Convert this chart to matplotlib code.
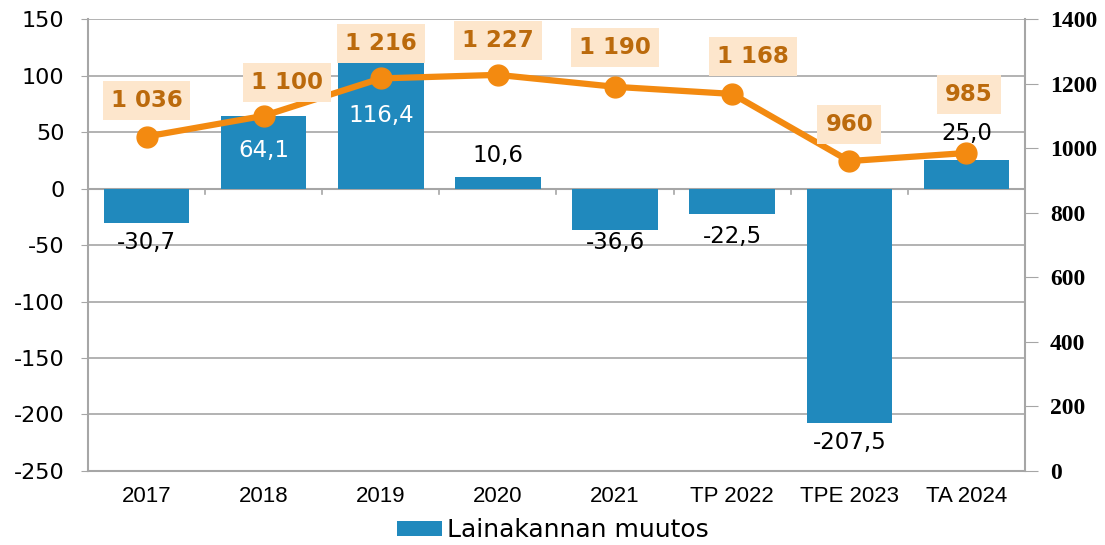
import matplotlib.pyplot as plt
import numpy as np

plt.rcParams['axes.unicode_minus'] = False

# data
categories = ['2017', '2018', '2019', '2020', '2021', 'TP 2022', 'TPE 2023', 'TA 2024']
muutos = [-30.7, 64.1, 116.4, 10.6, -36.6, -22.5, -207.5, 25.0]
lainakanta = [1036, 1100, 1216, 1227, 1190, 1168, 960, 985]

bar_col = '#2089BD'
line_col = '#F38A10'
lab_col = '#BB6A0C'
box_col = '#FDE6CC'
grid_col = '#A6A6A6'

def fi(v, dec=1):
    # finnish number format
    s = f'{v:.{dec}f}'.replace('.', ',')
    return s

def thousands(v):
    return f'{v:,}'.replace(',', ' ')

fig = plt.figure(figsize=(11.05, 5.45), dpi=100)
ax = fig.add_axes([0.0796, 0.1358, 0.848, 0.8293])
x = np.arange(len(categories))

ax.bar(x, muutos, width=0.73, color=bar_col, zorder=2, label='Lainakannan muutos')
ax.set_xlim(-0.5, len(categories) - 0.5)
ax.set_ylim(-250, 150)
ax.set_yticks(range(-250, 151, 50))
ax.yaxis.grid(True, color=grid_col, linewidth=1.2, zorder=0)
ax.set_axisbelow(True)
ax.tick_params(axis='y', labelsize=16, length=5, color=grid_col, pad=12)
ax.set_xticks(x)
ax.set_xticklabels(categories, fontsize=16, family='Liberation Sans')
ax.tick_params(axis='x', length=0, pad=11)
for s in ['left', 'right', 'bottom']:
    ax.spines[s].set_color(grid_col)
    ax.spines[s].set_linewidth(1.5)
ax.spines['top'].set_visible(False)

# zero line with category separators
ax.axhline(0, color=grid_col, linewidth=1.5, zorder=1)
for b in x[:-1] + 0.5:
    ax.plot([b, b], [0, -5], color=grid_col, linewidth=1.2, zorder=1)

# bar value labels (offsets in points, as placed in the original)
lab_off = [-14, -25, -42, 15.5, -9, -16, -14, 19]
for xi, v, off in zip(x, muutos, lab_off):
    col = 'white' if v > 50 else 'black'
    ax.annotate(fi(v), (xi, v), xytext=(0, off), textcoords='offset points',
                ha='center', va='center', fontsize=16.5, color=col)

ax2 = ax.twinx()
ax2.set_ylim(0, 1400)
ax2.set_yticks(range(0, 1401, 200))
ax2.plot(x, lainakanta, color=line_col, linewidth=4.5, marker='o', markersize=15, zorder=3)
ax2.tick_params(axis='y', length=9, color=grid_col, pad=9)
for t in ax2.get_yticklabels():
    t.set_fontfamily('Liberation Serif')
    t.set_fontweight('bold')
    t.set_fontsize(17)
for s in ax2.spines.values():
    s.set_visible(False)

# line labels with shaded boxes
dx = [0, 17, 0, 0, 0, 15, 0, 2]
dy = [26, 24, 25, 25, 28, 27, 26, 42]
for xi, v, ox, oy in zip(x, lainakanta, dx, dy):
    ax2.annotate(thousands(v), (xi, v), xytext=(ox, oy), textcoords='offset points',
                 ha='center', va='center', fontsize=16.5, fontweight='bold', color=lab_col,
                 bbox=dict(boxstyle='square,pad=0.35', fc=box_col, ec='none'), zorder=4)

handles, labels = ax.get_legend_handles_labels()
fig.legend(handles, labels, loc='center', bbox_to_anchor=(0.5, 0.027), frameon=False,
           fontsize=18, handlelength=1.8, handleheight=0.6, handletextpad=0.2,
           borderpad=0, borderaxespad=0)

fig.savefig('out.png', dpi=100)
